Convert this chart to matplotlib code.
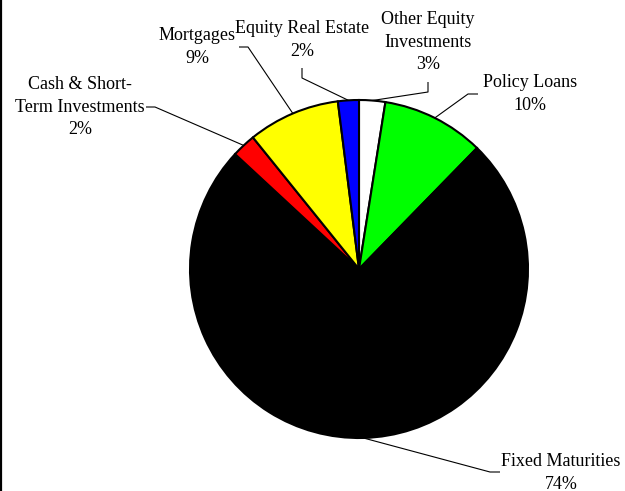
import numpy as np
import matplotlib
matplotlib.use("Agg")
import matplotlib.pyplot as plt
from matplotlib.lines import Line2D

# ---- data ----
categories = ["Other Equity\nInvestments", "Policy Loans", "Fixed Maturities",
              "Cash & Short-\nTerm Investments", "Mortgages", "Equity Real Estate"]
shares = [2.5, 9.8, 74.6, 2.3, 8.8, 2.0]
pct_labels = ["3%", "10%", "74%", "2%", "9%", "2%"]
colors = ["#FFFFFF", "#00FF00", "#000000", "#FF0000", "#FFFF00", "#0000FF"]

W, H = 625, 491
fig = plt.figure(figsize=(W / 100, H / 100), dpi=100)
ax = fig.add_axes([0, 0, 1, 1])
ax.set_xlim(0, W)
ax.set_ylim(0, H)
ax.set_aspect("equal")
ax.axis("off")

cx, cy, r = 359, H - 269, 169
wedges, _ = ax.pie(shares, colors=colors, startangle=90, counterclock=False,
                   center=(cx, cy), radius=r, frame=True,
                   wedgeprops=dict(edgecolor="black", linewidth=1.5))
ax.set_xlim(0, W)
ax.set_ylim(0, H)
ax.axis("off")

font = dict(family="Liberation Serif", size=13, color="black")

# label layout (pixel coords, y down): text center, leader points from label side
layout = [
    dict(text=(428, 42), pts=[(428, 82), (428, 92)]),   # Other Equity
    dict(text=(530, 94), pts=[(478, 94), (468, 94)]),   # Policy Loans
    dict(text=(561, 473), pts=[(500, 472), (490, 472)]),  # Fixed Maturities
    dict(text=(80, 107), pts=[(146, 107), (155, 107)]),  # Cash
    dict(text=(197, 47), pts=[(239, 47), (248, 47)]),   # Mortgages
    dict(text=(302, 40), pts=[(302, 68), (302, 78)]),   # Equity Real Estate
]

for w, cat, pct, lay in zip(wedges, categories, pct_labels, layout):
    tx, ty = lay["text"]
    ax.text(tx, H - ty, cat + "\n" + pct, ha="center", va="center",
            linespacing=1.45, **font)
    mid = np.deg2rad((w.theta1 + w.theta2) / 2)
    ax_, ay_ = cx + r * np.cos(mid), cy + r * np.sin(mid)
    xs = [p[0] for p in lay["pts"]] + [ax_]
    ys = [H - p[1] for p in lay["pts"]] + [ay_]
    ax.plot(xs, ys, color="black", lw=0.8, solid_capstyle="butt")

fig.add_artist(Line2D([1.0 / W, 1.0 / W], [0, 1], color="black", lw=1.6,
                      transform=fig.transFigure))

fig.savefig("out.png", dpi=100, facecolor="white")
